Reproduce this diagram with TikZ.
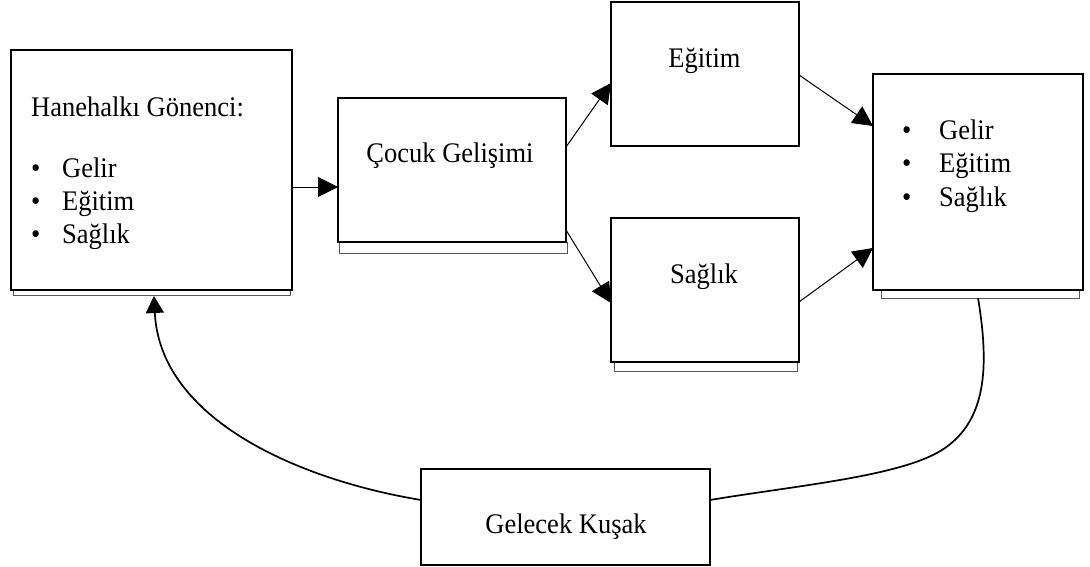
\documentclass[tikz,border=0pt]{standalone}
\usepackage{fontspec}
\setmainfont{Liberation Serif}
\usetikzlibrary{arrows.meta,backgrounds}
\newcommand{\tallt}[1]{\scalebox{1}[1.07]{#1}}
\begin{document}
\begin{tikzpicture}[x=1pt,y=-1pt,
  box/.style={draw, line width=1.5pt, fill=white, inner sep=0pt, outer sep=0pt},
  shadowbox/.style={draw=black!65, line width=0.9pt, fill=white},
  txt/.style={inner sep=0pt, font=\fontsize{26.5}{33}\selectfont},
  conn/.style={line width=1pt, -{Triangle[length=20pt,width=20pt]}},
  loopline/.style={line width=1.7pt},
]
\useasboundingbox (0,0) rectangle (1090,567);
% boxes
\node[box, minimum width=281pt, minimum height=240pt] (h) at (151.5,170) {};
\node[box, minimum width=228pt, minimum height=144pt] (c) at (452,170) {};
\node[box, minimum width=188pt, minimum height=144pt] (e) at (705,74) {};
\node[box, minimum width=188pt, minimum height=144pt] (s) at (705,290) {};
\node[box, minimum width=210pt, minimum height=216pt] (r) at (978,182) {};
\node[box, minimum width=289pt, minimum height=96pt] (g) at (565.5,517) {};
% shadows
\begin{scope}[on background layer]
\draw[shadowbox] ([xshift=2pt]h.south west) rectangle ([xshift=-2pt,yshift=-5pt]h.south east);
\draw[shadowbox] ([xshift=1pt]c.south west) rectangle ([xshift=1pt,yshift=-11pt]c.south east);
\draw[shadowbox] ([xshift=3pt]s.south west) rectangle ([xshift=-2pt,yshift=-9pt]s.south east);
\draw[shadowbox] ([xshift=8pt]r.south west) rectangle ([xshift=-4pt,yshift=-8pt]r.south east);
\end{scope}
% texts
\node[txt, anchor=base west] (h0) at (31,117) {\tallt{Hanehalkı Gönenci:}};
\node[txt, anchor=base west] (h1) at (31,178) {\tallt{\makebox[31pt][l]{\textbullet}Gelir}};
\node[txt, anchor=base west] (h2) at (31,210) {\tallt{\makebox[31pt][l]{\textbullet}Eğitim}};
\node[txt, anchor=base west] (h3) at (31,243) {\tallt{\makebox[31pt][l]{\textbullet}Sağlık}};
\node[txt, anchor=base] (ct) at (450,163) {\tallt{Çocuk Gelişimi}};
\node[txt, anchor=base] (et) at (704.5,68) {\tallt{Eğitim}};
\node[txt, anchor=base] (st) at (704,283) {\tallt{Sağlık}};
\node[txt, anchor=base west] (r1) at (902,140) {\tallt{\makebox[37pt][l]{\textbullet}Gelir}};
\node[txt, anchor=base west] (r2) at (902,173) {\tallt{\makebox[37pt][l]{\textbullet}Eğitim}};
\node[txt, anchor=base west] (r3) at (902,206) {\tallt{\makebox[37pt][l]{\textbullet}Sağlık}};
\node[txt, anchor=base] (gt) at (566,533) {\tallt{Gelecek Kuşak}};
% connectors
\draw[conn] (h.east |- 0,187) -- (c.west |- 0,187);
\draw[conn] (c.east |- 0,147) -- (e.west |- 0,83);
\draw[conn] (c.east |- 0,230) -- (s.west |- 0,303);
\draw[conn] (e.east |- 0,75) -- (r.west |- 0,126);
\draw[conn] (s.east |- 0,302) -- (r.west |- 0,248);
\draw[loopline, -{Triangle[length=17pt,width=18pt]}] (g.west |- 0,500) .. controls (300,480) and (160,420) .. (154,296);
\draw[loopline] (978,298) .. controls (990,370) and (985,420) .. (945,448) .. controls (905,476) and (800,485) .. (g.east |- 0,500);
\end{tikzpicture}
\end{document}
